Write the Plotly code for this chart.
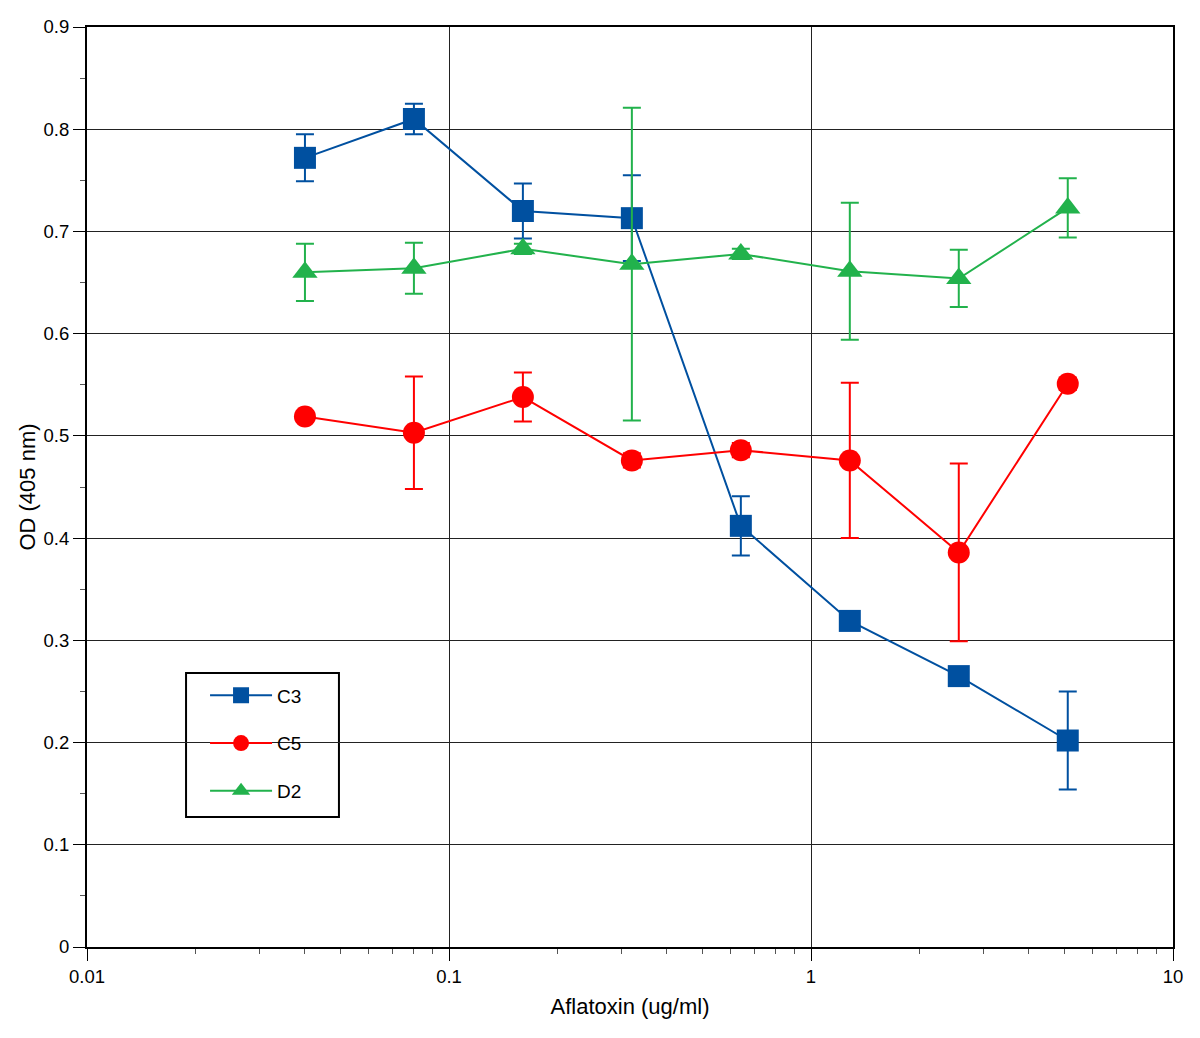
import plotly.graph_objects as go

conc = [0.04, 0.08, 0.16, 0.32, 0.64, 1.28, 2.56, 5.12]

c3 = [0.772, 0.810, 0.720, 0.713, 0.412, 0.319, 0.265, 0.202]
c3_err = [0.023, 0.015, 0.027, 0.042, 0.029, 0.005, 0.008, 0.048]

c5 = [0.519, 0.503, 0.538, 0.476, 0.486, 0.476, 0.386, 0.551]
c5_err = [0.005, 0.055, 0.024, 0.007, 0.007, 0.076, 0.087, 0.006]

d2 = [0.660, 0.664, 0.683, 0.668, 0.678, 0.661, 0.654, 0.723]
d2_err = [0.028, 0.025, 0.005, 0.153, 0.005, 0.067, 0.028, 0.029]

series = [
    ("C3", c3, c3_err, "#0050a0", "square"),
    ("C5", c5, c5_err, "#ff0000", "circle"),
    ("D2", d2, d2_err, "#22b24c", "triangle-up"),
]

fig = go.Figure()
for name, vals, errs, color, sym in series:
    fig.add_trace(go.Scatter(
        x=conc, y=vals, name=name, mode="lines+markers",
        legendgroup=name,
        line=dict(color=color, width=2),
        marker=dict(symbol=sym, size=22, color=color),
        error_y=dict(type="data", array=errs, visible=True, color=color,
                     thickness=2, width=9),
    ))

# legend frame (decoration only)
fig.add_shape(type="rect", xref="x domain", yref="y domain",
              x0=0.0912, x1=0.232, y0=0.1413, y1=0.2978,
              line=dict(color="black", width=2), fillcolor="white", layer="below")

font = "Liberation Sans, Arial, sans-serif"
fig.update_layout(
    width=1200, height=1038,
    margin=dict(l=79, r=35, t=19, b=99, autoexpand=False),
    paper_bgcolor="white", plot_bgcolor="white",
    font=dict(family=font, size=18.5, color="black"),
    showlegend=True,
    legend=dict(x=0.1087, y=0.294, xanchor="left", yanchor="top",
                borderwidth=0, bgcolor="rgba(0,0,0,0)",
                font=dict(size=19), tracegroupgap=20, traceorder="grouped",
                itemwidth=62),
    xaxis=dict(
        type="log", range=[-2, 1], automargin=False,
        tickvals=[0.01, 0.1, 1, 10], ticktext=["0.01", "0.1", "1", "10"],
        showgrid=True, gridcolor="#222222", gridwidth=1,
        ticks="outside", ticklen=12, tickwidth=1, tickcolor="black",
        showline=True, linecolor="black", linewidth=2, mirror=True,
        minor=dict(ticks="outside", ticklen=5, tickcolor="#555555", dtick="D1", showgrid=False),
        title=dict(text="Aflatoxin (ug/ml)", standoff=12),
        zeroline=False,
    ),
    yaxis=dict(
        range=[0, 0.9], dtick=0.1, tickformat="~g", automargin=False,
        showgrid=True, gridcolor="#222222", gridwidth=1,
        ticks="outside", ticklen=12, tickwidth=1, tickcolor="black",
        showline=True, linecolor="black", linewidth=2, mirror=True,
        minor=dict(ticks="outside", ticklen=5, tickcolor="#555555", dtick=0.05, showgrid=False),
        title=dict(text="OD (405 nm)", standoff=2),
        zeroline=False,
    ),
)

fig.write_html("out.html")
